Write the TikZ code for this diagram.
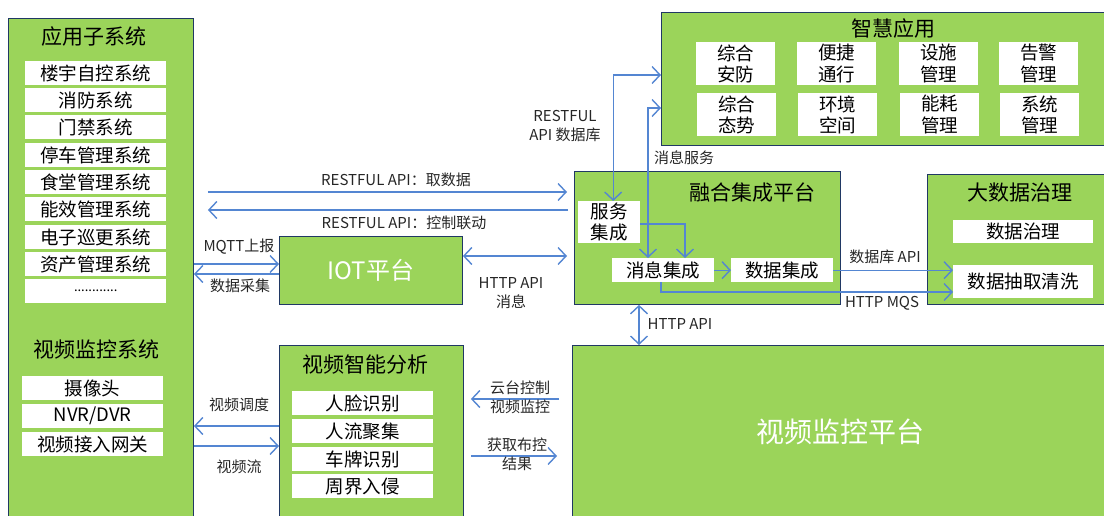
\documentclass[tikz,border=0pt]{standalone}
\usepackage{fontspec}
\setmainfont{Noto Sans CJK SC}
\usetikzlibrary{arrows.meta}
\definecolor{leaf}{RGB}{155,212,90}
\definecolor{navy}{RGB}{32,56,100}
\definecolor{wire}{RGB}{84,134,210}
\definecolor{ink}{RGB}{38,38,38}

\begin{document}
\begin{tikzpicture}[x=1pt,y=-1pt,
  panel/.style={draw=navy,fill=leaf,line width=0.9pt,anchor=north west,inner sep=0pt},
  cell/.style={fill=white,anchor=north west,inner sep=0pt,align=center,font=\fontsize{18.5}{21.5}\selectfont},
  appcell/.style={cell,minimum width=141pt,minimum height=24pt},
  smartcell/.style={cell,minimum width=79pt,minimum height=43pt},
  head/.style={font=\fontsize{21}{25}\selectfont},
  note/.style={font=\fontsize{15}{19}\selectfont,text=ink,align=center},
  link/.style={draw=wire,line width=1.4pt,-{Straight Barb[length=8pt,width=17pt]}},
  both/.style={link,{Straight Barb[length=8pt,width=17pt]}-{Straight Barb[length=8pt,width=17pt]}}]

\clip (0,0) rectangle (1104,516);


\node[panel,minimum width=185pt,minimum height=510pt] (apps) at (8,18) {};
\node[head] (appstitle) at (94,37) {应用子系统};
\node[appcell] (bas) at (25,61) {楼宇自控系统};
\node[appcell] (fire) at (25,88) {消防系统};
\node[appcell] (door) at (25,115) {门禁系统};
\node[appcell] (park) at (25,143) {停车管理系统};
\node[appcell] (canteen) at (25,170) {食堂管理系统};
\node[appcell] (energy) at (25,197) {能效管理系统};
\node[appcell] (patrol) at (25,225) {电子巡更系统};
\node[appcell] (asset) at (25,252) {资产管理系统};
\node[appcell,font=\fontsize{13}{15}\selectfont] (more) at (25,279) {............};

\node[head] (vsystitle) at (97,350) {视频监控系统};
\node[appcell] (camera) at (22,376) {摄像头};
\node[appcell] (nvr) at (22,404) {NVR/DVR};
\node[appcell] (gateway) at (22,432) {视频接入网关};


\node[panel,minimum width=183pt,minimum height=68pt,text=white,font=\fontsize{24}{28}\selectfont] (iot) at (279,236) {IOT平台};

\node[panel,minimum width=184pt,minimum height=180pt] (vai) at (279,345) {};
\node[head] (vaititle) at (365,365) {视频智能分析};
\node[appcell] (face) at (292,391) {人脸识别};
\node[appcell] (crowd) at (292,419) {人流聚集};
\node[appcell] (plate) at (292,447) {车牌识别};
\node[appcell] (fence) at (292,474) {周界入侵};


\node[panel,minimum width=266pt,minimum height=133pt] (fusion) at (574,171) {};
\node[head] (fusiontitle) at (752,193) {融合集成平台};
\node[cell,minimum width=62pt,minimum height=42pt] (servint) at (578,201) {服务\\集成};
\node[cell,minimum width=102pt,minimum height=24pt] (msgint) at (612,258) {消息集成};
\node[cell,minimum width=102pt,minimum height=24pt] (datint) at (731,258) {数据集成};


\node[panel,minimum width=460pt,minimum height=133pt] (smart) at (661,12) {};
\node[head] (smarttitle) at (893,29) {智慧应用};
\node[smartcell] (security) at (696,42) {综合\\安防};
\node[smartcell] (pass) at (797,42) {便捷\\通行};
\node[smartcell] (facility) at (899,42) {设施\\管理};
\node[smartcell] (alarm) at (999,42) {告警\\管理};
\node[smartcell] (situation) at (697,93) {综合\\态势};
\node[smartcell] (space) at (798,93) {环境\\空间};
\node[smartcell] (power) at (900,93) {能耗\\管理};
\node[smartcell] (sysmgr) at (1000,93) {系统\\管理};


\node[panel,minimum width=190pt,minimum height=130pt] (bigdata) at (927,174) {};
\node[head] (bigdatatitle) at (1020,193) {大数据治理};
\node[cell,minimum width=140pt,minimum height=23pt] (govern) at (953,220) {数据治理};
\node[cell,minimum width=140pt,minimum height=33pt] (extract) at (953,265) {数据抽取清洗};


\node[panel,minimum width=540pt,minimum height=180pt] (vplat) at (572,345) {};
\node[text=white,font=\fontsize{28}{32}\selectfont] (vplattext) at (840,432) {视频监控平台};


\draw[link,shorten <=14pt,shorten >=7pt] (apps.east |- 0,192) -- (fusion.west |- 0,192);
\draw[link,shorten <=6pt,shorten >=14pt] (fusion.west |- 0,210) -- (apps.east |- 0,210);
\draw[link] (apps.east |- 0,264) -- (iot.west |- 0,264);
\draw[link] (iot.west |- 0,274) -- (apps.east |- 0,274);
\draw[both,shorten >=7pt] (iot.east |- 0,256) -- (fusion.west |- 0,256);
\draw[both] (smart.west |- 0,75) -| ([xshift=4pt]servint.north);
\draw[both] (smart.west |- 0,108) -| (msgint.north -| 648,0);
\draw[link] (servint.east |- 0,224) -| (msgint.north -| 685,0);
\draw[link] (msgint.east) -- (datint.west);
\draw[link] (datint.east) -- (extract.west |- datint.east);
\draw[link] (msgint.south -| 661,0) |- (extract.west |- 0,292);
\draw[both] (fusion.south -| 639,0) -- (vplat.north -| 639,0);
\draw[link] (vai.west |- 0,426) -- (apps.east |- 0,426);
\draw[link] (apps.east |- 0,446) -- (vai.west |- 0,446);
\draw[link,shorten <=13pt,shorten >=7pt] (vplat.west |- 0,399) -- (vai.east |- 0,399);
\draw[link,shorten <=7pt,shorten >=15pt] (vai.east |- 0,456) -- (vplat.west |- 0,456);


\node[note] (fetch) at (396,180) {RESTFUL API：取数据};
\node[note] (control) at (404,223) {RESTFUL API：控制联动};
\node[note] (mqtt) at (239,247) {MQTT上报};
\node[note] (collect) at (240,286) {数据采集};
\node[note] (iothttp) at (511,293) {HTTP API\\消息};
\node[note] (restdb) at (565,126) {RESTFUL\\API 数据库};
\node[note] (msgsvc) at (684,158) {消息服务};
\node[note] (dbapi) at (885,257) {数据库 API};
\node[note] (mqs) at (882,303) {HTTP MQS};
\node[note] (vhttp) at (680,324) {HTTP API};
\node[note] (dispatch) at (239,405) {视频调度};
\node[note] (stream) at (239,467) {视频流};
\node[note] (ptz) at (520,397) {云台控制\\视频监控};
\node[note] (result) at (517,454) {获取布控\\结果};

\end{tikzpicture}
\end{document}
